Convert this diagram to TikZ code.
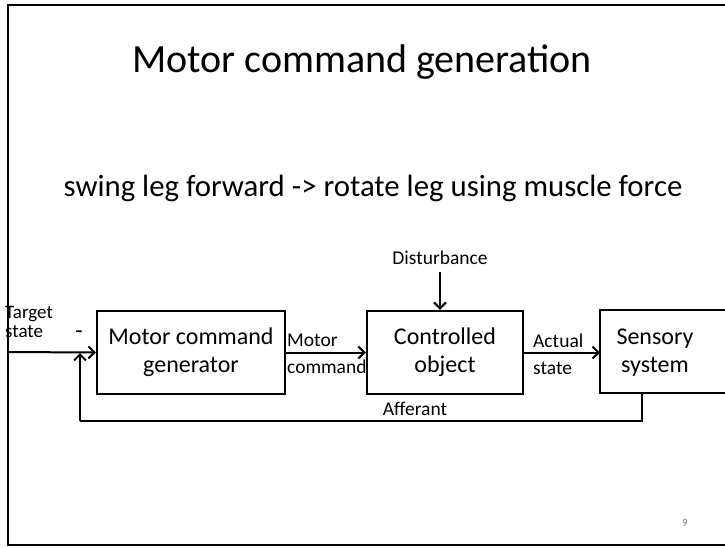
\documentclass[tikz,border=0pt]{standalone}
\usepackage{fontspec}
\setmainfont{Carlito}
\usetikzlibrary{arrows.meta}
\begin{document}
\begin{tikzpicture}[x=1pt,y=-1pt,
  blk/.style={draw,line width=2.4pt,inner sep=0pt,font=\fontsize{24}{28}\selectfont,align=center},
  lbl/.style={font=\fontsize{19.5}{27}\selectfont,inner sep=0pt},
  conn/.style={line width=2pt,-{Straight Barb[length=6pt,width=12pt,line width=2pt]}},
  fb/.style={line width=2pt},
  frame/.style={line width=2pt}]
\fill[white] (0,0) rectangle (725,547);
\useasboundingbox (0,0) rectangle (725,547);
\draw[frame] (8,5) -- (725,5);
\draw[frame] (8,4) -- (8,546);
\draw[frame] (8,545) -- (725,545);
\node[font=\fontsize{40}{48}\selectfont,inner sep=0pt] (title) at (362,62) {Motor command generation};
\node[font=\fontsize{30.8}{36}\selectfont,inner sep=0pt] (sub) at (373,188) {swing leg forward -> rotate leg using muscle force};
\node[blk,minimum width=188pt,minimum height=83pt] (mcg) at (191,352.5) {Motor command\\generator};
\node[blk,minimum width=156pt,minimum height=83pt] (co) at (445,352.5) {Controlled\\object};
\coordinate (ssw) at (600,351.5);
\draw[line width=2.4pt] (725,310) -- (600,310) -- (600,393) -- (725,393);
\node[font=\fontsize{24}{28}\selectfont,align=center,inner sep=0pt] (sst) at (655,353) {Sensory\\system};
\coordinate (start) at (8,352);
\coordinate (fbl) at (80,421);
\coordinate (fbr) at (642,421);
\coordinate (fbt) at (642,393);
\coordinate (sum) at (80,353);
\draw[conn] (start) -- (mcg.west);
\draw[conn] (mcg.east) -- (co.west);
\draw[conn] (co.east) -- (ssw |- co.east);
\node[lbl] (dist) at (440,258) {Disturbance};
\draw[conn] (dist.south |- 0,272) -- (co.north -| dist.south);
\draw[fb] (fbt) -- (fbr) -- (fbl);
\draw[conn] (fbl) -- (sum);
\node[lbl,anchor=west,align=left,font=\fontsize{19}{19}\selectfont] (tgt) at (5,322) {Target\\state};
\node[font=\fontsize{24}{28}\selectfont,inner sep=0pt] (minus) at (79,335) {-};
\node[lbl,anchor=west,align=left] (mc) at (287,354) {Motor\\command};
\node[lbl,anchor=west,align=left] (as) at (533,354) {Actual\\state};
\node[lbl] (aff) at (415,409) {Afferant};
\node[font=\fontsize{11}{13}\selectfont,text=gray,inner sep=0pt] (pg) at (685,523) {9};
\end{tikzpicture}
\end{document}
